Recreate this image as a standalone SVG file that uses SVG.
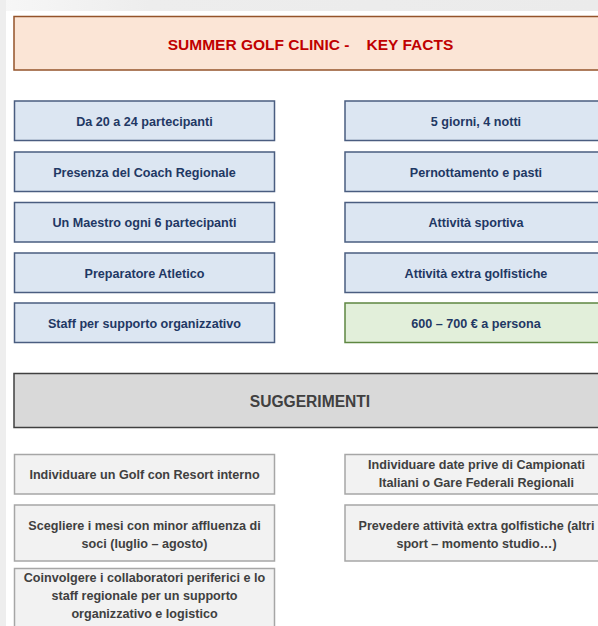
<svg xmlns="http://www.w3.org/2000/svg" width="598" height="626" viewBox="0 0 598 626">
  <defs>
    <linearGradient id="topband" x1="0" y1="0" x2="1" y2="0">
      <stop offset="0" stop-color="#f7f7f7"/>
      <stop offset="0.25" stop-color="#ededed"/>
      <stop offset="1" stop-color="#ebebeb"/>
    </linearGradient>
    <style>
      text { font-family: "Liberation Sans", Arial, sans-serif; font-weight: bold; text-anchor: middle; }
      .title-box { fill: #fbe5d6; stroke: #94532a; stroke-width: 1.5; }
      .title-txt { fill: #c00000; font-size: 15.5px; }
      .fact { fill: #dce6f2; stroke: #4a5d80; stroke-width: 1.5; }
      .price { fill: #e2efda; stroke: #5e8741; stroke-width: 1.5; }
      .fact-txt { fill: #1f3864; font-size: 12.6px; }
      .head { fill: #d9d9d9; stroke: #404040; stroke-width: 1.5; }
      .head-txt { fill: #404040; font-size: 15.6px; }
      .sug { fill: #f2f2f2; stroke: #a6a6a6; stroke-width: 1.5; }
      .sug-txt { fill: #404040; font-size: 12.6px; }
    </style>
  </defs>

  <rect x="0" y="0" width="598" height="626" fill="#ffffff"/>
  <rect x="0" y="0" width="598" height="11" fill="url(#topband)"/>
  <rect x="0" y="0" width="6" height="626" fill="#eeeeee"/>

  <g id="title">
    <rect class="title-box" x="14" y="16.5" width="594" height="53.5"/>
    <text class="title-txt" x="310.5" y="50" xml:space="preserve">SUMMER GOLF CLINIC -    KEY FACTS</text>
  </g>

  <g id="fact-1">
    <rect class="fact" x="14.5" y="101" width="260" height="39.5"/>
    <text class="fact-txt" x="144.5" y="126">Da 20 a 24 partecipanti</text>
  </g>
  <g id="fact-2">
    <rect class="fact" x="14.5" y="152" width="260" height="39.5"/>
    <text class="fact-txt" x="144.5" y="176.7">Presenza del Coach Regionale</text>
  </g>
  <g id="fact-3">
    <rect class="fact" x="14.5" y="202.5" width="260" height="39.5"/>
    <text class="fact-txt" x="144.5" y="227.2">Un Maestro ogni 6 partecipanti</text>
  </g>
  <g id="fact-4">
    <rect class="fact" x="14.5" y="253" width="260" height="39.5"/>
    <text class="fact-txt" x="144.5" y="277.7">Preparatore Atletico</text>
  </g>
  <g id="fact-5">
    <rect class="fact" x="14.5" y="303" width="260" height="39.5"/>
    <text class="fact-txt" x="144.5" y="327.7">Staff per supporto organizzativo</text>
  </g>

  <g id="fact-6">
    <rect class="fact" x="345" y="101" width="263" height="39.5"/>
    <text class="fact-txt" x="476" y="126">5 giorni, 4 notti</text>
  </g>
  <g id="fact-7">
    <rect class="fact" x="345" y="152" width="263" height="39.5"/>
    <text class="fact-txt" x="476" y="176.7">Pernottamento e pasti</text>
  </g>
  <g id="fact-8">
    <rect class="fact" x="345" y="202.5" width="263" height="39.5"/>
    <text class="fact-txt" x="476" y="227.2">Attività sportiva</text>
  </g>
  <g id="fact-9">
    <rect class="fact" x="345" y="253" width="263" height="39.5"/>
    <text class="fact-txt" x="476" y="277.7">Attività extra golfistiche</text>
  </g>
  <g id="fact-10">
    <rect class="price" x="345" y="303" width="263" height="39.5"/>
    <text class="fact-txt" x="476" y="327.7">600 – 700 € a persona</text>
  </g>

  <g id="suggerimenti">
    <rect class="head" x="14" y="373.5" width="594" height="54"/>
    <text class="head-txt" x="310" y="406.5">SUGGERIMENTI</text>
  </g>

  <g id="sug-1">
    <rect class="sug" x="14.5" y="454.5" width="260" height="39.5"/>
    <text class="sug-txt" x="144.5" y="478.5">Individuare un Golf con Resort interno</text>
  </g>
  <g id="sug-2">
    <rect class="sug" x="14.5" y="505" width="260" height="56"/>
    <text class="sug-txt" x="144.5" y="530">Scegliere i mesi con minor affluenza di</text>
    <text class="sug-txt" x="144.5" y="548.3">soci (luglio – agosto)</text>
  </g>
  <g id="sug-3">
    <rect class="sug" x="14.5" y="568.5" width="260" height="70"/>
    <text class="sug-txt" x="144.5" y="581.7">Coinvolgere i collaboratori periferici e lo</text>
    <text class="sug-txt" x="144.5" y="600">staff regionale per un supporto</text>
    <text class="sug-txt" x="144.5" y="618.3">organizzativo e logistico</text>
  </g>
  <g id="sug-4">
    <rect class="sug" x="345" y="454.5" width="263" height="39.5"/>
    <text class="sug-txt" x="476.5" y="468.5">Individuare date prive di Campionati</text>
    <text class="sug-txt" x="476.5" y="487.2">Italiani o Gare Federali Regionali</text>
  </g>
  <g id="sug-5">
    <rect class="sug" x="345" y="505" width="263" height="56"/>
    <text class="sug-txt" x="476.5" y="530">Prevedere attività extra golfistiche (altri</text>
    <text class="sug-txt" x="476.5" y="548.3">sport – momento studio…)</text>
  </g>

  <g id="connectors"/>
</svg>
